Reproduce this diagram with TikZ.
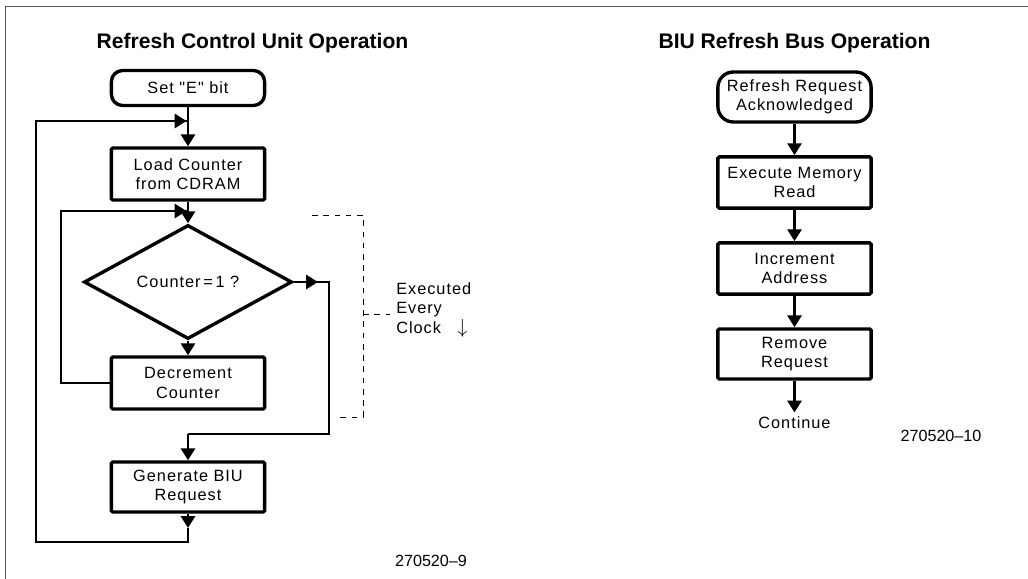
\documentclass[tikz,border=0pt]{standalone}
\usepackage{fontspec}
\setmainfont{Liberation Sans}
\newfontfamily\chartfont[LetterSpace=6]{Liberation Sans}
\usetikzlibrary{arrows.meta,shapes.geometric}
\definecolor{framegray}{HTML}{555555}
\tikzset{
  procbox/.style={draw, line width=2.4pt, rounded corners=1pt, minimum width=3.83cm,
    minimum height=1.3cm, inner sep=0pt, align=center,
    font=\chartfont\fontsize{11.6}{13.8}\selectfont},
  termbox/.style={procbox, rounded corners=8pt},
  decide/.style={draw, diamond, line width=2.4pt, minimum width=5.2cm, minimum height=2.175cm,
    inner sep=0pt, font=\chartfont\fontsize{11.6}{13.8}\selectfont},
  flow/.style={line width=2pt},
  flowarrow/.style={flow, -{Triangle[width=10pt,length=8.5pt]}},
  clockline/.style={line width=0.7pt, dash pattern=on 4pt off 4pt},
  heading/.style={font=\bfseries\fontsize{15}{18}\selectfont},
  fignum/.style={font=\fontsize{11.5}{14}\selectfont},
  plaintext/.style={font=\chartfont\fontsize{11.6}{13.8}\selectfont, inner sep=0pt}
}
\begin{document}
\begin{tikzpicture}[x=0.025cm, y=-0.025cm]
  \useasboundingbox (0,0) rectangle (1028,579);

  % Drawing frame
  \draw [framegray, line width=1.4pt] (5.5,579) -- (5.5,6.5) -- (1028,6.5);

  % Marking headings
  \node [heading] (rcuhead) at (252.5,43) {Refresh Control Unit Operation};
  \node [heading] (biuhead) at (794.5,43) {BIU Refresh Bus Operation};

  % Left chart boxes
  \node [termbox, minimum height=0.875cm] (setbit) at (188,88) {Set "E" bit};
  \node [procbox] (loadctr) at (188,174) {Load Counter\\from CDRAM};
  \node [decide] (testctr) at (188,282) {Counter\,=\,1 ?};
  \node [procbox] (decctr) at (188,383) {Decrement\\Counter};
  \node [procbox, minimum height=1.25cm] (genreq) at (188,487) {Generate BIU\\Request};

  % Corner points of the loops
  \coordinate (outerjoin) at (188,121);
  \coordinate (innerjoin) at (188,211);
  \coordinate (genfoot) at (188,528);
  \coordinate (outerbottom) at (188,542);
  \coordinate (outerleft) at (36,542);
  \coordinate (innerleft) at (61,383);
  \coordinate (yesright) at (329,282);
  \coordinate (yeshead) at (318,282);
  \coordinate (yesbottom) at (188,434);

  % Drawing main column
  \draw [flowarrow] (setbit) -- (loadctr);
  \draw [flowarrow] (loadctr) -- (testctr);
  \draw [flowarrow] (testctr) -- (decctr);

  % Drawing inner loop
  \draw [flow] (decctr.west) -- (innerleft) |- (innerjoin);
  \draw [flowarrow] (innerleft |- innerjoin) -- ([xshift=-1pt]innerjoin);

  % Drawing branch Counter = 1
  \draw [flow] (testctr.east) -- (yesright) |- (yesbottom);
  \draw [flowarrow] (testctr.east) -- (yeshead);
  \draw [flowarrow] (yesbottom) -- (genreq);

  % Drawing outer loop
  \draw [flowarrow] (genreq) -- (genfoot);
  \draw [flow] (genfoot) -- (outerbottom) -- (outerleft) |- (outerjoin);
  \draw [flowarrow] (outerleft |- outerjoin) -- ([xshift=-1pt]outerjoin);

  % Drawing dashed bracket
  \coordinate (clocktop) at (312,215);
  \coordinate (clockfoot) at (335,417);
  \coordinate (clocktick) at (390,314);
  \draw [clockline] (clocktop) -- (363,215) -- (363,417) -- (clockfoot);
  \draw [clockline] (363,314) -- (clocktick);
  \node [plaintext, anchor=west, align=left] (clocknote) at (396,310)
        {Executed\\Every\\Clock\hspace{1em}{\Large$\downarrow$}};

  \node [fignum] (leftnum) at (431,561) {270520--9};

  % Right chart boxes
  \node [termbox, minimum height=1.25cm, rounded corners=11pt] (rfack) at (794.5,97)
        {Refresh Request\\Acknowledged};
  \node [procbox, minimum height=1.28cm] (memread) at (794.5,182.5) {Execute Memory\\Read};
  \node [procbox, minimum height=1.28cm] (incaddr) at (794.5,268.5) {Increment\\Address};
  \node [procbox, minimum height=1.25cm] (rmreq) at (794.5,354) {Remove\\Request};
  \node [plaintext] (contd) at (794.5,423) {Continue};

  % Drawing right column
  \draw [flowarrow] (rfack) -- (memread);
  \draw [flowarrow] (memread) -- (incaddr);
  \draw [flowarrow] (incaddr) -- (rmreq);
  \draw [flowarrow] (rmreq) -- ([yshift=3pt]contd.north);

  \node [fignum] (rightnum) at (941,436) {270520--10};
\end{tikzpicture}
\end{document}
